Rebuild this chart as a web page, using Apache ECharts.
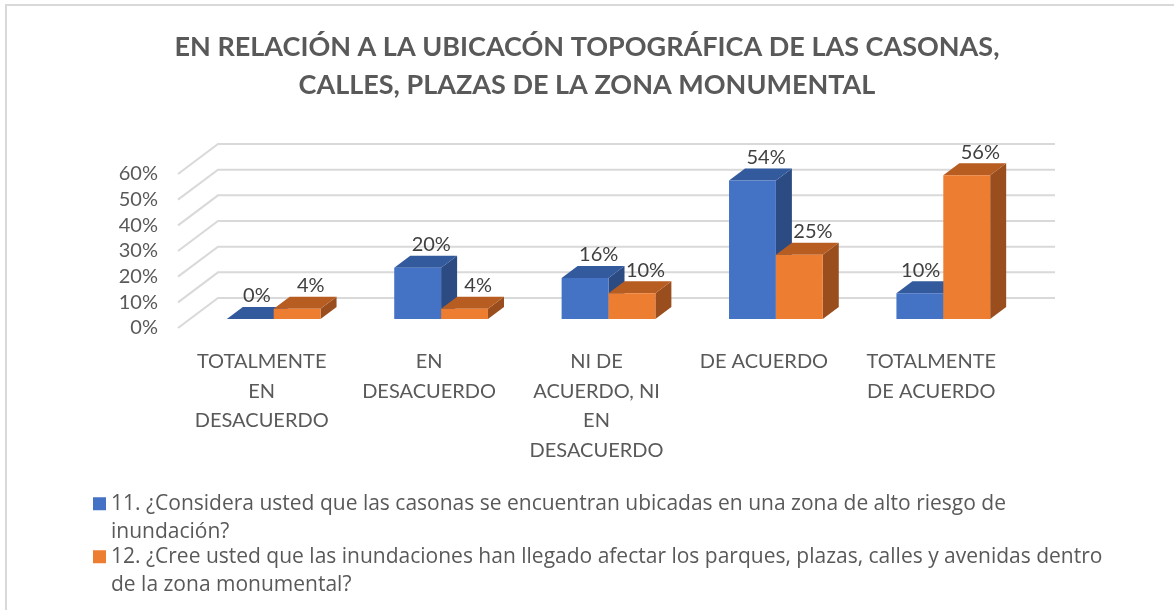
<!DOCTYPE html>
<html>
<head>
<meta charset="utf-8">
<title>Ubicación topográfica</title>
<script src="https://cdn.jsdelivr.net/npm/echarts@6/dist/echarts.min.js"></script>
<style>
  html, body { margin: 0; padding: 0; background: #fff; }
  #chart { width: 1174px; height: 610px; }
</style>
</head>
<body>
<div id="chart"></div>
<script>
// Data
const categories = [
  'TOTALMENTE\nEN\nDESACUERDO',
  'EN\nDESACUERDO',
  'NI DE\nACUERDO, NI\nEN\nDESACUERDO',
  'DE ACUERDO',
  'TOTALMENTE\nDE ACUERDO'
];
const seriesNames = [
  '11. ¿Considera usted que las casonas se encuentran ubicadas en una zona de alto riesgo de\ninundación?',
  '12. ¿Cree usted que las inundaciones han llegado afectar los parques, plazas, calles y avenidas dentro\nde la zona monumental?'
];
const values11 = [0, 0.20, 0.16, 0.54, 0.10];
const values12 = [0.04, 0.04, 0.10, 0.25, 0.56];
const yTicks = [0, 0.1, 0.2, 0.3, 0.4, 0.5, 0.6];

// 3D look
const DEPTH = [40, -30];      // front floor edge -> back wall
const BAR_FRONT = 0.3;        // bar front face, share of depth
const BAR_BACK = 0.7;         // bar back face, share of depth
const BAR_W = 0.28;           // bar width, share of category band
const FONT = 'Lato';
const TEXT_COLOR = '#595959';

const palette = [
  { front: '#4472C4', top: '#325A9C', side: '#2B4B82' },
  { front: '#ED7D31', top: '#B75D22', side: '#9A4E1E' }
];

// side wall + back wall grid lines
function wallRenderer(params, api) {
  const v = api.value(1);
  const p0 = api.coord([0, v]);
  const p1 = api.coord([categories.length - 1, v]);
  const band = api.size([1, 0])[0];
  const left = p0[0] - band / 2;
  const right = p1[0] + band / 2;
  const y = p0[1];
  return {
    type: 'polyline',
    silent: true,
    shape: {
      points: [
        [left, y],
        [left + DEPTH[0], y + DEPTH[1]],
        [right + DEPTH[0], y + DEPTH[1]]
      ]
    },
    style: { stroke: '#D9D9D9', lineWidth: 2, fill: null }
  };
}

// a 3D column made of front, top and side faces
// nextValues: values of the column standing right of this one (label moves left if it is taller)
function barRenderer(slot, colors, nextValues) {
  return function (params, api) {
    const idx = api.value(0);
    const v = api.value(1);
    const base = api.coord([idx, 0]);
    const top = api.coord([idx, v]);
    const band = api.size([1, 0])[0];
    const w = band * BAR_W;
    const fx = DEPTH[0] * BAR_FRONT, fy = DEPTH[1] * BAR_FRONT;
    const dx = DEPTH[0] * (BAR_BACK - BAR_FRONT);
    const dy = DEPTH[1] * (BAR_BACK - BAR_FRONT);
    const x0 = base[0] + fx + (slot - 1) * w;
    const x1 = x0 + w;
    const by = base[1] + fy;
    const ty = top[1] + fy;
    const blocked = nextValues && nextValues[idx] > v;
    return {
      type: 'group',
      children: [
        {
          type: 'polygon',
          shape: { points: [[x1, ty], [x1 + dx, ty + dy], [x1 + dx, by + dy], [x1, by]] },
          style: { fill: colors.side }
        },
        {
          type: 'polygon',
          shape: { points: [[x0, ty], [x1, ty], [x1 + dx, ty + dy], [x0 + dx, ty + dy]] },
          style: { fill: colors.top }
        },
        {
          type: 'rect',
          shape: { x: x0, y: ty, width: w, height: by - ty },
          style: { fill: colors.front }
        },
        {
          type: 'text',
          style: {
            text: Math.round(v * 100) + '%',
            x: blocked ? x1 - 3 : x0 + w / 2 + dx * 0.85,
            y: ty + dy - 1,
            align: blocked ? 'right' : 'center',
            verticalAlign: 'bottom',
            fill: '#404040',
            fontSize: 20,
            fontFamily: FONT
          }
        }
      ]
    };
  };
}

const chart = echarts.init(document.getElementById('chart'));

// legend text: a blank first line keeps the square beside the first real line
const legendText = {
  fontSize: 21,
  fontFamily: 'Open Sans',
  color: TEXT_COLOR,
  lineHeight: 28.5
};

const option = {
  animation: false,
  backgroundColor: '#fff',
  title: {
    text: 'EN RELACIÓN A LA UBICACÓN TOPOGRÁFICA DE LAS CASONAS,\nCALLES, PLAZAS DE LA ZONA MONUMENTAL',
    left: 'center',
    top: 23,
    textStyle: {
      fontSize: 27,
      fontWeight: 'bold',
      fontFamily: FONT,
      color: TEXT_COLOR,
      lineHeight: 38
    }
  },
  graphic: [
    {
      type: 'rect',
      silent: true,
      shape: { x: 6, y: 5, width: 1300, height: 700 },
      style: { fill: null, stroke: '#D9D9D9', lineWidth: 2 }
    }
  ],
  legend: [
    {
      data: [seriesNames[0]],
      left: 88,
      top: 456,
      icon: 'rect',
      itemWidth: 13,
      itemHeight: 13,
      formatter: (name) => '\n' + name,
      textStyle: legendText
    },
    {
      data: [seriesNames[1]],
      left: 88,
      top: 509,
      icon: 'rect',
      itemWidth: 13,
      itemHeight: 13,
      formatter: (name) => '\n' + name,
      textStyle: legendText
    }
  ],
  grid: {
    left: 178,
    top: 174,
    width: 837,
    height: 154
  },
  xAxis: {
    type: 'category',
    data: categories,
    axisLine: { show: false },
    axisTick: { show: false },
    axisLabel: {
      interval: 0,
      margin: 19,
      fontSize: 20,
      fontFamily: FONT,
      color: TEXT_COLOR,
      lineHeight: 29.5
    }
  },
  yAxis: {
    type: 'value',
    min: 0,
    max: 0.6,
    interval: 0.1,
    axisLine: { show: false },
    axisTick: { show: false },
    splitLine: { show: false },
    axisLabel: {
      margin: 20,
      fontSize: 20,
      fontFamily: FONT,
      color: TEXT_COLOR,
      formatter: (v) => Math.round(v * 100) + '%'
    }
  },
  series: [
    {
      type: 'custom',
      name: 'wall',
      z: 1,
      clip: false,
      silent: true,
      renderItem: wallRenderer,
      data: yTicks.map((v) => [0, v])
    },
    {
      type: 'custom',
      name: seriesNames[0],
      z: 2,
      clip: false,
      itemStyle: { color: palette[0].front },
      renderItem: barRenderer(0, palette[0], values12),
      data: values11.map((v, i) => [i, v])
    },
    {
      type: 'custom',
      name: seriesNames[1],
      z: 2,
      clip: false,
      itemStyle: { color: palette[1].front },
      renderItem: barRenderer(1, palette[1], null),
      data: values12.map((v, i) => [i, v])
    }
  ]
};

chart.setOption(option);
</script>
</body>
</html>
